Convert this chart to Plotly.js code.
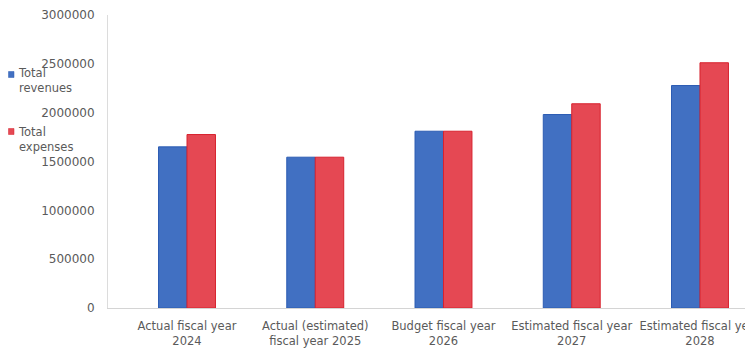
<!DOCTYPE html>
<html>
<head>
<meta charset="utf-8">
<script src="https://cdn.plot.ly/plotly-3.0.1.min.js"></script>
<style>html,body{margin:0;padding:0;background:#fff;}#chart{width:745px;height:348px;}</style>
</head>
<body>
<div id="chart"></div>
<script>
const categories = [
  "Actual fiscal year<br>2024",
  "Actual (estimated)<br>fiscal year 2025",
  "Budget fiscal year<br>2026",
  "Estimated fiscal year<br>2027",
  "Estimated fiscal year<br>2028"
];
const seriesNames = ["Total<br>revenues", "Total<br>expenses"];
const totalRevenues = [1650000, 1544000, 1810000, 1981000, 2278000];
const totalExpenses = [1776000, 1544000, 1810000, 2091000, 2511000];
const yTickVals = [0, 500000, 1000000, 1500000, 2000000, 2500000, 3000000];
const yTickText = ["0", "500000", "1000000", "1500000", "2000000", "2500000", "3000000"];

const blue = "#4170c2", blueEdge = "#2c5cb3";
const red = "#e54853", redEdge = "#d7222e";
const textColor = "#5a5a5a";
const fontFam = "DejaVu Sans, Liberation Sans, Arial, sans-serif";

const traces = [
  {type: "bar", name: seriesNames[0], x: categories, y: totalRevenues,
   marker: {color: blue, line: {color: blueEdge, width: 1}}},
  {type: "bar", name: seriesNames[1], x: categories, y: totalExpenses,
   marker: {color: red, line: {color: redEdge, width: 1}}}
];

const W = 745, H = 348, ml = 108, mt = 15, mb = 40, mr = 0;
const plotW = W - ml - mr, plotH = H - mt - mb;
const px2x = p => (p - ml) / plotW;
const py2y = p => (H - mb - p) / plotH;

const colors = [blue, red], edges = [blueEdge, redEdge];
const legendTextY = [80.5, 139.5];
const legendBoxY = [[71.5, 77.5], [128.5, 134.5]];

const annotations = seriesNames.map((n, i) => ({
  xref: "paper", yref: "paper", x: px2x(16), y: py2y(legendTextY[i]),
  xanchor: "left", yanchor: "middle", align: "left", showarrow: false,
  text: n, font: {family: fontFam, size: 11.5, color: textColor}
}));
const shapes = seriesNames.map((n, i) => ({
  type: "rect", xref: "paper", yref: "paper",
  x0: px2x(8.5), x1: px2x(14), y0: py2y(legendBoxY[i][1]), y1: py2y(legendBoxY[i][0]),
  fillcolor: colors[i], line: {color: edges[i], width: 0.5}
}));

const layout = {
  width: W, height: H,
  margin: {l: ml, r: mr, t: mt, b: mb, pad: 0},
  paper_bgcolor: "#fff", plot_bgcolor: "#fff",
  barmode: "group", bargap: 0.556, bargroupgap: 0,
  showlegend: false,
  font: {family: fontFam, size: 11.5, color: textColor},
  xaxis: {
    type: "category", range: [-0.616, 4.351],
    showgrid: false, zeroline: false, showline: true, linecolor: "#d4d4d4", linewidth: 1,
    ticks: "", ticklabelstandoff: 7,
    tickfont: {family: fontFam, size: 11.5, color: textColor},
    fixedrange: true
  },
  yaxis: {
    range: [0, 3000000], tickvals: yTickVals, ticktext: yTickText,
    showgrid: false, zeroline: false, showline: true, linecolor: "#dcdcdc", linewidth: 1,
    ticks: "", ticklabelstandoff: 10,
    tickfont: {family: fontFam, size: 12, color: textColor},
    fixedrange: true
  },
  annotations: annotations,
  shapes: shapes
};

Plotly.newPlot("chart", traces, layout, {displayModeBar: false, staticPlot: true});
</script>
</body>
</html>
